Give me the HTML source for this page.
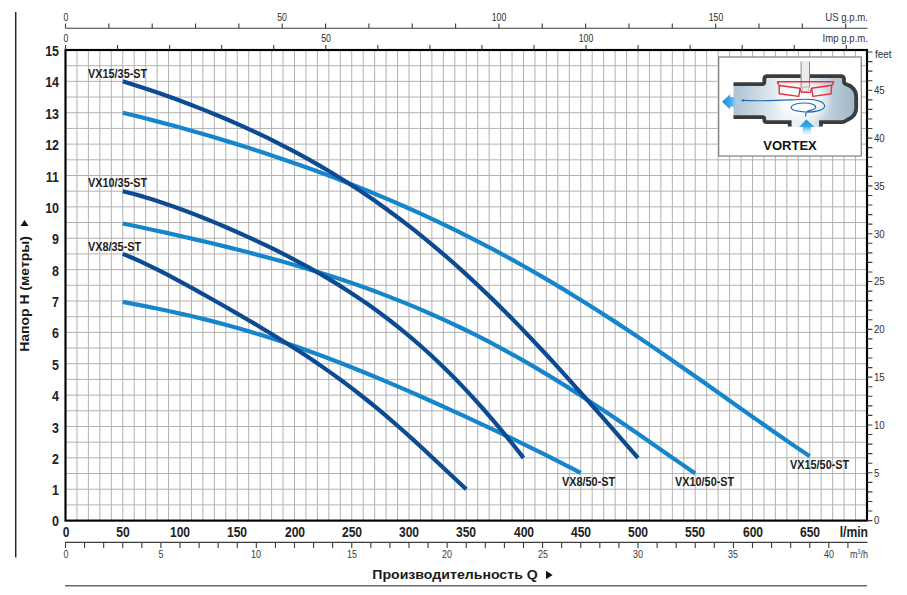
<!DOCTYPE html>
<html><head><meta charset="utf-8"><title>Pump curves</title>
<style>
html,body{margin:0;padding:0;background:#fff}
body{width:907px;height:595px;position:relative;overflow:hidden;font-family:"Liberation Sans",sans-serif}
.t{position:absolute;white-space:nowrap;line-height:16px;color:#222}
.yb{font-weight:bold;font-size:15px;line-height:18px}
.xb{font-weight:bold;font-size:14.6px;line-height:18px}
.sm{font-size:10.8px;color:#3a3a3a;line-height:14px}
.sm2{font-size:10.5px;color:#2a2a2a;line-height:14px}
.sm3{font-size:11.6px;color:#333;line-height:14px}
.ft{font-size:11.5px;color:#2e2e2e;line-height:14px}
.cl{font-weight:bold;font-size:12.7px;line-height:14px;color:#1c1c1c}
.ttl{font-weight:bold;font-size:13.7px;line-height:16px;color:#1a1a1a}
.vx{font-weight:bold;font-size:13.7px;line-height:16px;color:#111}
</style></head>
<body>
<svg width="907" height="595" viewBox="0 0 907 595" style="position:absolute;left:0;top:0">
<rect width="907" height="595" fill="#fff"/>
<path d="M76.95 50 V520.6 M88.4 50 V520.6 M99.85 50 V520.6 M111.3 50 V520.6 M122.75 50 V520.6 M134.2 50 V520.6 M145.65 50 V520.6 M157.1 50 V520.6 M168.55 50 V520.6 M180 50 V520.6 M191.45 50 V520.6 M202.9 50 V520.6 M214.35 50 V520.6 M225.8 50 V520.6 M237.25 50 V520.6 M248.7 50 V520.6 M260.15 50 V520.6 M271.6 50 V520.6 M283.05 50 V520.6 M294.5 50 V520.6 M305.95 50 V520.6 M317.4 50 V520.6 M328.85 50 V520.6 M340.3 50 V520.6 M351.75 50 V520.6 M363.2 50 V520.6 M374.65 50 V520.6 M386.1 50 V520.6 M397.55 50 V520.6 M409 50 V520.6 M420.45 50 V520.6 M431.9 50 V520.6 M443.35 50 V520.6 M454.8 50 V520.6 M466.25 50 V520.6 M477.7 50 V520.6 M489.15 50 V520.6 M500.6 50 V520.6 M512.05 50 V520.6 M523.5 50 V520.6 M534.95 50 V520.6 M546.4 50 V520.6 M557.85 50 V520.6 M569.3 50 V520.6 M580.75 50 V520.6 M592.2 50 V520.6 M603.65 50 V520.6 M615.1 50 V520.6 M626.55 50 V520.6 M638 50 V520.6 M649.45 50 V520.6 M660.9 50 V520.6 M672.35 50 V520.6 M683.8 50 V520.6 M695.25 50 V520.6 M706.7 50 V520.6 M718.15 50 V520.6 M729.6 50 V520.6 M741.05 50 V520.6 M752.5 50 V520.6 M763.95 50 V520.6 M775.4 50 V520.6 M786.85 50 V520.6 M798.3 50 V520.6 M809.75 50 V520.6 M821.2 50 V520.6 M832.65 50 V520.6 M844.1 50 V520.6 M855.55 50 V520.6 M65.5 504.91 H867 M65.5 489.23 H867 M65.5 473.54 H867 M65.5 457.85 H867 M65.5 442.17 H867 M65.5 426.48 H867 M65.5 410.79 H867 M65.5 395.11 H867 M65.5 379.42 H867 M65.5 363.73 H867 M65.5 348.05 H867 M65.5 332.36 H867 M65.5 316.67 H867 M65.5 300.99 H867 M65.5 285.3 H867 M65.5 269.61 H867 M65.5 253.93 H867 M65.5 238.24 H867 M65.5 222.55 H867 M65.5 206.87 H867 M65.5 191.18 H867 M65.5 175.49 H867 M65.5 159.81 H867 M65.5 144.12 H867 M65.5 128.43 H867 M65.5 112.75 H867 M65.5 97.06 H867 M65.5 81.37 H867 M65.5 65.69 H867" stroke="#b2b2b2" stroke-width="1" fill="none"/>
<defs>
<linearGradient id="gch" x1="733" y1="0" x2="858" y2="0" gradientUnits="userSpaceOnUse">
<stop offset="0" stop-color="#adc2d3"/><stop offset="0.2" stop-color="#cddae5"/><stop offset="0.4" stop-color="#eef3f7"/><stop offset="0.6" stop-color="#e6edf3"/><stop offset="0.78" stop-color="#bdcedb"/><stop offset="1" stop-color="#9cb3c4"/>
</linearGradient>
<radialGradient id="gcw" cx="803" cy="101" r="30" gradientUnits="userSpaceOnUse" gradientTransform="translate(803 101) scale(1 0.75) translate(-803 -101)">
<stop offset="0" stop-color="#fff" stop-opacity="1"/><stop offset="0.55" stop-color="#fff" stop-opacity="0.75"/><stop offset="1" stop-color="#fff" stop-opacity="0"/>
</radialGradient>
<linearGradient id="gal" x1="722" y1="0" x2="737" y2="0" gradientUnits="userSpaceOnUse">
<stop offset="0" stop-color="#1792db"/><stop offset="0.5" stop-color="#3aa5e4"/><stop offset="1" stop-color="#a9d6f3"/>
</linearGradient>
<linearGradient id="gab" x1="0" y1="119.5" x2="0" y2="135" gradientUnits="userSpaceOnUse">
<stop offset="0" stop-color="#1792db"/><stop offset="0.45" stop-color="#3ea7e5"/><stop offset="1" stop-color="#d8ecf9" stop-opacity="0.2"/>
</linearGradient>
<clipPath id="cin"><path d="M733.5 84.1 H764.3 V76.2 H844 V84 C852 85.5 856.2 90.5 856.2 96.5 V108 C856.2 114 852 118 845 121.5 L842 122.1 H821 V127 H789.7 V122.1 H764.3 V117.1 H733.5 Z"/></clipPath>
</defs>
<rect x="718.7" y="57" width="142.6" height="99" fill="#fff" stroke="#7d7d7d" stroke-width="1.2"/>
<g clip-path="url(#cin)">
<rect x="730" y="70" width="132" height="60" fill="url(#gch)"/>
<rect x="730" y="70" width="132" height="60" fill="url(#gcw)"/>
</g>
<!-- shaft -->
<rect x="801.1" y="61.4" width="8.4" height="26" fill="#ececec"/>
<path d="M801.1 61.4 V87.5 M809.5 61.4 V87.5" stroke="#8a8a8a" stroke-width="1" fill="none"/>
<rect x="802.4" y="87" width="5.8" height="4.3" fill="#ececec" stroke="#9a9a9a" stroke-width="0.6"/>
<!-- walls -->
<path d="M733.5 84.1 H762 Q764.3 84.1 764.3 82 V79.3 Q764.3 76.2 767.5 76.2 H800.6 M810 76.2 H840.6 Q844 76.2 844 79.5 V81.5 Q844 83.8 846.5 84.4 C852 85.8 856.2 90.5 856.2 96.5 V108 C856.2 113.5 852.5 117.3 848.5 119.2 Q846.3 120.2 845.3 121.2 Q844.4 122.1 842 122.1 H821 V126.6 M733.5 117.1 H762.2 Q764.3 117.1 764.3 119 V119.9 Q764.3 122.1 766.6 122.1 H789.7 V126.6" stroke="#3b3b3b" stroke-width="3.8" fill="none" stroke-linejoin="miter"/>
<!-- impeller -->
<path d="M777.2 81.7 H833.7 L832.4 85.3 M777.2 81.7 L779.2 85.5 M779.2 85.5 L800.1 88.2 L798.8 96.4 L779.2 93.7 Z M831.7 85.3 L811.6 88.2 L812.9 96.4 L831.1 93.7 Z M800.1 88 L801.5 92.4 H810.2 L811.6 88" stroke="#e5323c" stroke-width="1.4" fill="none" stroke-linejoin="round"/>
<!-- swirl -->
<path d="M742.5 100.4 C766 101.6 788 99.8 806 99.3 C818 99 824.8 102.5 824.6 106.3 C824.3 110.6 813 112.4 805.5 112 C796.5 111.5 791.2 110.2 791.2 107.6 C791.2 104.6 797.5 103 804 103 C811 103 816 104.8 815.7 107.5 C815.3 110.3 808.2 109.8 806.4 112.2 C805.5 113.5 805.6 115 805.6 116.6" stroke="#2468b2" stroke-width="1.15" fill="none"/>
<path d="M740.6 100.4 L743.8 98.9 V101.9 Z" fill="#2a6fb4"/>
<!-- arrows -->
<path d="M722 101.7 L730.1 94.3 V97 H736.4 V106.7 H730.1 V109.4 Z" fill="url(#gal)"/>
<path d="M806.4 119.6 L814.5 126.9 H810.9 V135 H802.7 V126.9 H799.1 Z" fill="url(#gab)"/>

<path d="M122.75 112.75 L140.37 117.08 L157.98 121.61 L175.6 126.33 L193.21 131.24 L210.83 136.33 L228.44 141.62 L246.06 147.09 L263.67 152.77 L281.29 158.65 L298.9 164.74 L316.52 171.07 L334.13 177.63 L351.75 184.44 L369.37 191.51 L386.98 198.85 L404.6 206.47 L422.21 214.39 L439.83 222.62 L457.44 231.15 L475.06 240.01 L492.67 249.18 L510.29 258.69 L527.9 268.52 L545.52 278.68 L563.13 289.15 L580.75 299.94 L598.37 311.02 L615.98 322.38 L633.6 334.01 L651.21 345.87 L668.83 357.93 L686.44 370.16 L704.06 382.52 L721.67 394.95 L739.29 407.42 L756.9 419.86 L774.52 432.2 L792.13 444.37 L809.75 456.3" stroke="#1586cc" stroke-width="4.2" fill="none" stroke-linejoin="round"/>
<path d="M122.75 223.49 L137.43 226.56 L152.11 229.7 L166.79 232.92 L181.47 236.22 L196.15 239.6 L210.83 243.07 L225.51 246.64 L240.19 250.32 L254.87 254.11 L269.54 258.03 L284.22 262.1 L298.9 266.32 L313.58 270.72 L328.26 275.3 L342.94 280.1 L357.62 285.11 L372.3 290.35 L386.98 295.85 L401.66 301.61 L416.34 307.64 L431.02 313.96 L445.7 320.57 L460.38 327.48 L475.06 334.7 L489.74 342.23 L504.42 350.06 L519.1 358.21 L533.78 366.65 L548.46 375.38 L563.13 384.39 L577.81 393.65 L592.49 403.16 L607.17 412.87 L621.85 422.77 L636.53 432.81 L651.21 442.96 L665.89 453.16 L680.57 463.37 L695.25 473.53" stroke="#1586cc" stroke-width="4.2" fill="none" stroke-linejoin="round"/>
<path d="M122.75 301.92 L134.49 304.15 L146.24 306.43 L157.98 308.8 L169.72 311.26 L181.47 313.83 L193.21 316.53 L204.96 319.37 L216.7 322.35 L228.44 325.49 L240.19 328.77 L251.93 332.22 L263.67 335.81 L275.42 339.56 L287.16 343.46 L298.9 347.51 L310.65 351.7 L322.39 356.02 L334.13 360.47 L345.88 365.03 L357.62 369.72 L369.37 374.5 L381.11 379.38 L392.85 384.35 L404.6 389.4 L416.34 394.53 L428.08 399.72 L439.83 404.98 L451.57 410.29 L463.31 415.66 L475.06 421.09 L486.8 426.56 L498.54 432.09 L510.29 437.68 L522.03 443.34 L533.78 449.06 L545.52 454.87 L557.26 460.76 L569.01 466.77 L580.75 472.91" stroke="#1586cc" stroke-width="4.2" fill="none" stroke-linejoin="round"/>
<path d="M122.75 81.37 L135.96 85.5 L149.17 89.82 L162.38 94.34 L175.6 99.05 L188.81 103.97 L202.02 109.1 L215.23 114.44 L228.44 120 L241.65 125.8 L254.87 131.85 L268.08 138.17 L281.29 144.76 L294.5 151.65 L307.71 158.85 L320.92 166.38 L334.13 174.24 L347.35 182.47 L360.56 191.07 L373.77 200.05 L386.98 209.43 L400.19 219.21 L413.4 229.4 L426.62 240.02 L439.83 251.06 L453.04 262.51 L466.25 274.39 L479.46 286.68 L492.67 299.37 L505.88 312.45 L519.1 325.89 L532.31 339.68 L545.52 353.79 L558.73 368.18 L571.94 382.81 L585.15 397.65 L598.37 412.63 L611.58 427.7 L624.79 442.81 L638 457.87" stroke="#0c4a92" stroke-width="4.2" fill="none" stroke-linejoin="round"/>
<path d="M122.75 191.18 L133.03 193.76 L143.3 196.64 L153.58 199.79 L163.85 203.16 L174.13 206.74 L184.4 210.49 L194.68 214.41 L204.96 218.47 L215.23 222.67 L225.51 227.01 L235.78 231.48 L246.06 236.08 L256.33 240.81 L266.61 245.69 L276.88 250.73 L287.16 255.93 L297.44 261.3 L307.71 266.87 L317.99 272.65 L328.26 278.66 L338.54 284.91 L348.81 291.43 L359.09 298.23 L369.37 305.33 L379.64 312.76 L389.92 320.52 L400.19 328.64 L410.47 337.13 L420.74 346.01 L431.02 355.29 L441.29 364.98 L451.57 375.09 L461.85 385.64 L472.12 396.61 L482.4 408.01 L492.67 419.85 L502.95 432.1 L513.22 444.78 L523.5 457.85" stroke="#0c4a92" stroke-width="4.2" fill="none" stroke-linejoin="round"/>
<path d="M122.75 253.93 L131.56 257.54 L140.37 261.45 L149.17 265.61 L157.98 269.97 L166.79 274.48 L175.6 279.12 L184.4 283.86 L193.21 288.69 L202.02 293.57 L210.83 298.51 L219.63 303.5 L228.44 308.53 L237.25 313.61 L246.06 318.74 L254.87 323.92 L263.67 329.18 L272.48 334.5 L281.29 339.92 L290.1 345.45 L298.9 351.09 L307.71 356.86 L316.52 362.78 L325.33 368.86 L334.13 375.1 L342.94 381.53 L351.75 388.15 L360.56 394.97 L369.37 401.99 L378.17 409.2 L386.98 416.62 L395.79 424.22 L404.6 431.99 L413.4 439.93 L422.21 448.01 L431.02 456.19 L439.83 464.45 L448.63 472.74 L457.44 481.02 L466.25 489.23" stroke="#0c4a92" stroke-width="4.2" fill="none" stroke-linejoin="round"/>
<rect x="65.5" y="50" width="801.5" height="470.6" fill="none" stroke="#000" stroke-width="2.15"/>
<path d="M15.7 12 V557.6" stroke="#2a2a2a" stroke-width="1.5"/>
<path d="M546 570.8 L552.6 575 L546 579.3 Z" fill="#111"/>
<path d="M20.5 226 L24.5 220 L28.5 226 Z" fill="#111"/>
<path d="M65 585.8 H867" stroke="#6a6a6a" stroke-width="1.6"/>
<path d="M65.5 28.3 H867.5 M65.5 28.3 V23.6 M108.84 28.3 V23.6 M152.19 28.3 V23.6 M195.53 28.3 V23.6 M238.87 28.3 V23.6 M282.21 28.3 V23.6 M325.56 28.3 V23.6 M368.9 28.3 V23.6 M412.24 28.3 V23.6 M455.59 28.3 V23.6 M498.93 28.3 V23.6 M542.27 28.3 V23.6 M585.62 28.3 V23.6 M628.96 28.3 V23.6 M672.3 28.3 V23.6 M715.64 28.3 V23.6 M758.99 28.3 V23.6 M802.33 28.3 V23.6 M845.67 28.3 V23.6" stroke="#3c3c3c" stroke-width="1.1" fill="none"/>
<path d="M65.5 50 V45 M117.55 50 V45 M169.61 50 V45 M221.66 50 V45 M273.71 50 V45 M325.76 50 V45 M377.82 50 V45 M429.87 50 V45 M481.92 50 V45 M533.97 50 V45 M586.03 50 V45 M638.08 50 V45 M690.13 50 V45 M742.19 50 V45 M794.24 50 V45 M846.29 50 V45" stroke="#3c3c3c" stroke-width="1.1" fill="none"/>
<path d="M867 520.6 H872.4 M867 511.04 H872.4 M867 501.47 H872.4 M867 491.91 H872.4 M867 482.35 H872.4 M867 472.79 H872.4 M867 463.22 H872.4 M867 453.66 H872.4 M867 444.1 H872.4 M867 434.54 H872.4 M867 424.97 H872.4 M867 415.41 H872.4 M867 405.85 H872.4 M867 396.29 H872.4 M867 386.72 H872.4 M867 377.16 H872.4 M867 367.6 H872.4 M867 358.04 H872.4 M867 348.47 H872.4 M867 338.91 H872.4 M867 329.35 H872.4 M867 319.79 H872.4 M867 310.22 H872.4 M867 300.66 H872.4 M867 291.1 H872.4 M867 281.54 H872.4 M867 271.97 H872.4 M867 262.41 H872.4 M867 252.85 H872.4 M867 243.28 H872.4 M867 233.72 H872.4 M867 224.16 H872.4 M867 214.6 H872.4 M867 205.03 H872.4 M867 195.47 H872.4 M867 185.91 H872.4 M867 176.35 H872.4 M867 166.78 H872.4 M867 157.22 H872.4 M867 147.66 H872.4 M867 138.1 H872.4 M867 128.53 H872.4 M867 118.97 H872.4 M867 109.41 H872.4 M867 99.85 H872.4 M867 90.28 H872.4 M867 80.72 H872.4 M867 71.16 H872.4 M867 61.6 H872.4 M867 52.03 H872.4" stroke="#3c3c3c" stroke-width="1.1" fill="none"/>
<path d="M65 542.4 H867.5 M65.5 542.4 V548 M84.58 542.4 V548 M103.67 542.4 V548 M122.75 542.4 V548 M141.83 542.4 V548 M160.92 542.4 V548 M180 542.4 V548 M199.08 542.4 V548 M218.17 542.4 V548 M237.25 542.4 V548 M256.33 542.4 V548 M275.42 542.4 V548 M294.5 542.4 V548 M313.58 542.4 V548 M332.67 542.4 V548 M351.75 542.4 V548 M370.83 542.4 V548 M389.92 542.4 V548 M409 542.4 V548 M428.08 542.4 V548 M447.17 542.4 V548 M466.25 542.4 V548 M485.33 542.4 V548 M504.42 542.4 V548 M523.5 542.4 V548 M542.58 542.4 V548 M561.67 542.4 V548 M580.75 542.4 V548 M599.83 542.4 V548 M618.92 542.4 V548 M638 542.4 V548 M657.08 542.4 V548 M676.17 542.4 V548 M695.25 542.4 V548 M714.33 542.4 V548 M733.42 542.4 V548 M752.5 542.4 V548 M771.58 542.4 V548 M790.67 542.4 V548 M809.75 542.4 V548 M828.83 542.4 V548 M847.92 542.4 V548" stroke="#3c3c3c" stroke-width="1.1" fill="none"/>
</svg>
<div class="t yb" style="left:59.1px;top:511.7px;transform-origin:100% 50%;transform:translateX(-100%) scaleX(0.83)">0</div>
<div class="t yb" style="left:59.1px;top:481.33px;transform-origin:100% 50%;transform:translateX(-100%) scaleX(0.83)">1</div>
<div class="t yb" style="left:59.1px;top:449.95px;transform-origin:100% 50%;transform:translateX(-100%) scaleX(0.83)">2</div>
<div class="t yb" style="left:59.1px;top:418.58px;transform-origin:100% 50%;transform:translateX(-100%) scaleX(0.83)">3</div>
<div class="t yb" style="left:59.1px;top:387.21px;transform-origin:100% 50%;transform:translateX(-100%) scaleX(0.83)">4</div>
<div class="t yb" style="left:59.1px;top:355.83px;transform-origin:100% 50%;transform:translateX(-100%) scaleX(0.83)">5</div>
<div class="t yb" style="left:59.1px;top:324.46px;transform-origin:100% 50%;transform:translateX(-100%) scaleX(0.83)">6</div>
<div class="t yb" style="left:59.1px;top:293.09px;transform-origin:100% 50%;transform:translateX(-100%) scaleX(0.83)">7</div>
<div class="t yb" style="left:59.1px;top:261.71px;transform-origin:100% 50%;transform:translateX(-100%) scaleX(0.83)">8</div>
<div class="t yb" style="left:59.1px;top:230.34px;transform-origin:100% 50%;transform:translateX(-100%) scaleX(0.83)">9</div>
<div class="t yb" style="left:59.1px;top:198.97px;transform-origin:100% 50%;transform:translateX(-100%) scaleX(0.83)">10</div>
<div class="t yb" style="left:59.1px;top:167.59px;transform-origin:100% 50%;transform:translateX(-100%) scaleX(0.83)">11</div>
<div class="t yb" style="left:59.1px;top:136.22px;transform-origin:100% 50%;transform:translateX(-100%) scaleX(0.83)">12</div>
<div class="t yb" style="left:59.1px;top:104.85px;transform-origin:100% 50%;transform:translateX(-100%) scaleX(0.83)">13</div>
<div class="t yb" style="left:59.1px;top:73.47px;transform-origin:100% 50%;transform:translateX(-100%) scaleX(0.83)">14</div>
<div class="t yb" style="left:59.1px;top:42.1px;transform-origin:100% 50%;transform:translateX(-100%) scaleX(0.83)">15</div>
<div class="t xb" style="left:65.5px;top:522.5px;transform-origin:50% 50%;transform:translateX(-50%) scaleX(0.83)">0</div>
<div class="t xb" style="left:122.75px;top:522.5px;transform-origin:50% 50%;transform:translateX(-50%) scaleX(0.83)">50</div>
<div class="t xb" style="left:180px;top:522.5px;transform-origin:50% 50%;transform:translateX(-50%) scaleX(0.83)">100</div>
<div class="t xb" style="left:237.25px;top:522.5px;transform-origin:50% 50%;transform:translateX(-50%) scaleX(0.83)">150</div>
<div class="t xb" style="left:294.5px;top:522.5px;transform-origin:50% 50%;transform:translateX(-50%) scaleX(0.83)">200</div>
<div class="t xb" style="left:351.75px;top:522.5px;transform-origin:50% 50%;transform:translateX(-50%) scaleX(0.83)">250</div>
<div class="t xb" style="left:409px;top:522.5px;transform-origin:50% 50%;transform:translateX(-50%) scaleX(0.83)">300</div>
<div class="t xb" style="left:466.25px;top:522.5px;transform-origin:50% 50%;transform:translateX(-50%) scaleX(0.83)">350</div>
<div class="t xb" style="left:523.5px;top:522.5px;transform-origin:50% 50%;transform:translateX(-50%) scaleX(0.83)">400</div>
<div class="t xb" style="left:580.75px;top:522.5px;transform-origin:50% 50%;transform:translateX(-50%) scaleX(0.83)">450</div>
<div class="t xb" style="left:638px;top:522.5px;transform-origin:50% 50%;transform:translateX(-50%) scaleX(0.83)">500</div>
<div class="t xb" style="left:695.25px;top:522.5px;transform-origin:50% 50%;transform:translateX(-50%) scaleX(0.83)">550</div>
<div class="t xb" style="left:752.5px;top:522.5px;transform-origin:50% 50%;transform:translateX(-50%) scaleX(0.83)">600</div>
<div class="t xb" style="left:809.75px;top:522.5px;transform-origin:50% 50%;transform:translateX(-50%) scaleX(0.83)">650</div>
<div class="t xb" style="left:867.5px;top:522.5px;transform-origin:100% 50%;transform:translateX(-100%) scaleX(0.83)">l/min</div>
<div class="t sm" style="left:65.5px;top:547.1px;transform-origin:50% 50%;transform:translateX(-50%) scaleX(0.83)">0</div>
<div class="t sm" style="left:160.92px;top:547.1px;transform-origin:50% 50%;transform:translateX(-50%) scaleX(0.83)">5</div>
<div class="t sm" style="left:256.33px;top:547.1px;transform-origin:50% 50%;transform:translateX(-50%) scaleX(0.83)">10</div>
<div class="t sm" style="left:351.75px;top:547.1px;transform-origin:50% 50%;transform:translateX(-50%) scaleX(0.83)">15</div>
<div class="t sm" style="left:447.17px;top:547.1px;transform-origin:50% 50%;transform:translateX(-50%) scaleX(0.83)">20</div>
<div class="t sm" style="left:542.58px;top:547.1px;transform-origin:50% 50%;transform:translateX(-50%) scaleX(0.83)">25</div>
<div class="t sm" style="left:638px;top:547.1px;transform-origin:50% 50%;transform:translateX(-50%) scaleX(0.83)">30</div>
<div class="t sm" style="left:733.42px;top:547.1px;transform-origin:50% 50%;transform:translateX(-50%) scaleX(0.83)">35</div>
<div class="t sm" style="left:828.83px;top:547.1px;transform-origin:50% 50%;transform:translateX(-50%) scaleX(0.83)">40</div>
<div class="t sm" style="left:867.5px;top:547.1px;transform-origin:100% 50%;transform:translateX(-100%) scaleX(0.83)">m<span style="font-size:6.5px;position:relative;top:-4px">3</span>/h</div>
<div class="t sm2" style="left:65.5px;top:9.5px;transform-origin:50% 50%;transform:translateX(-50%) scaleX(0.83)">0</div>
<div class="t sm2" style="left:282.21px;top:9.5px;transform-origin:50% 50%;transform:translateX(-50%) scaleX(0.83)">50</div>
<div class="t sm2" style="left:498.93px;top:9.5px;transform-origin:50% 50%;transform:translateX(-50%) scaleX(0.83)">100</div>
<div class="t sm2" style="left:715.64px;top:9.5px;transform-origin:50% 50%;transform:translateX(-50%) scaleX(0.83)">150</div>
<div class="t sm3" style="left:868.3px;top:9.7px;transform-origin:100% 50%;transform:translateX(-100%) scaleX(0.83)">US g.p.m.</div>
<div class="t sm2" style="left:65.5px;top:31px;transform-origin:50% 50%;transform:translateX(-50%) scaleX(0.83)">0</div>
<div class="t sm2" style="left:325.76px;top:31px;transform-origin:50% 50%;transform:translateX(-50%) scaleX(0.83)">50</div>
<div class="t sm2" style="left:586.03px;top:31px;transform-origin:50% 50%;transform:translateX(-50%) scaleX(0.83)">100</div>
<div class="t sm3" style="left:868.3px;top:30.5px;transform-origin:100% 50%;transform:translateX(-100%) scaleX(0.83)">Imp g.p.m.</div>
<div class="t ft" style="left:873.7px;top:513.4px;transform-origin:0 50%;transform:translateX(0) scaleX(0.84)">0</div>
<div class="t ft" style="left:873.7px;top:465.59px;transform-origin:0 50%;transform:translateX(0) scaleX(0.84)">5</div>
<div class="t ft" style="left:873.7px;top:417.77px;transform-origin:0 50%;transform:translateX(0) scaleX(0.84)">10</div>
<div class="t ft" style="left:873.7px;top:369.96px;transform-origin:0 50%;transform:translateX(0) scaleX(0.84)">15</div>
<div class="t ft" style="left:873.7px;top:322.15px;transform-origin:0 50%;transform:translateX(0) scaleX(0.84)">20</div>
<div class="t ft" style="left:873.7px;top:274.34px;transform-origin:0 50%;transform:translateX(0) scaleX(0.84)">25</div>
<div class="t ft" style="left:873.7px;top:226.52px;transform-origin:0 50%;transform:translateX(0) scaleX(0.84)">30</div>
<div class="t ft" style="left:873.7px;top:178.71px;transform-origin:0 50%;transform:translateX(0) scaleX(0.84)">35</div>
<div class="t ft" style="left:873.7px;top:130.9px;transform-origin:0 50%;transform:translateX(0) scaleX(0.84)">40</div>
<div class="t ft" style="left:873.7px;top:83.08px;transform-origin:0 50%;transform:translateX(0) scaleX(0.84)">45</div>
<div class="t ft" style="left:875.3px;top:46.8px;transform-origin:0 50%;transform:translateX(0) scaleX(0.86)">feet</div>
<div class="t cl" style="left:88px;top:66.7px;transform-origin:0 50%;transform:translateX(0) scaleX(0.857)">VX15/35-ST</div>
<div class="t cl" style="left:88px;top:175.7px;transform-origin:0 50%;transform:translateX(0) scaleX(0.857)">VX10/35-ST</div>
<div class="t cl" style="left:88px;top:239.8px;transform-origin:0 50%;transform:translateX(0) scaleX(0.857)">VX8/35-ST</div>
<div class="t cl" style="left:562px;top:474.6px;transform-origin:0 50%;transform:translateX(0) scaleX(0.857)">VX8/50-ST</div>
<div class="t cl" style="left:675px;top:474.6px;transform-origin:0 50%;transform:translateX(0) scaleX(0.857)">VX10/50-ST</div>
<div class="t cl" style="left:789.5px;top:458px;transform-origin:0 50%;transform:translateX(0) scaleX(0.857)">VX15/50-ST</div>
<div class="t ttl" style="left:455.2px;top:567px;transform:translateX(-50%) scaleX(1.032)">Производительность Q</div>
<div class="t ttl" style="left:24.6px;top:293.5px;transform:translate(-50%,-50%) rotate(-90deg) scaleX(1.02)">Напор H (метры)</div>
<div class="t vx" style="left:790px;top:138.3px;transform:translateX(-50%) scaleX(0.95)">VORTEX</div>
</body></html>
